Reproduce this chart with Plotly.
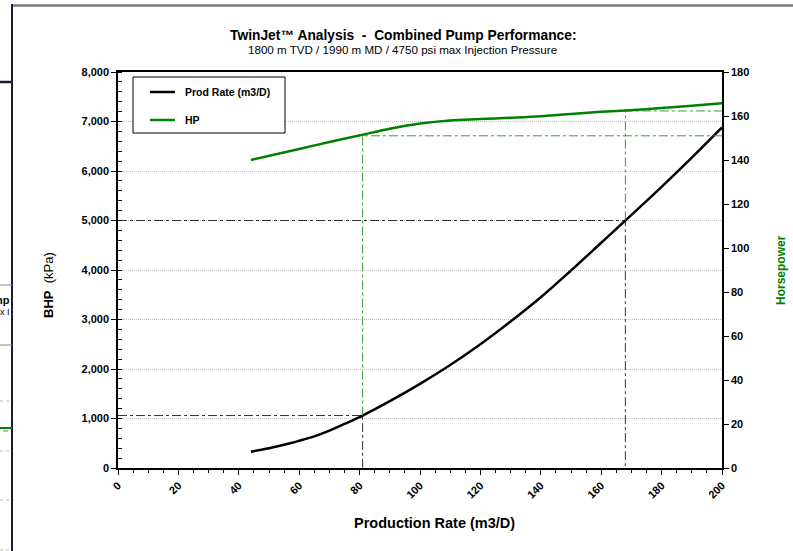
import plotly.graph_objects as go

# ---------------- data ----------------
prod_rate = [44, 50, 57, 60, 65, 70, 75, 81, 90, 100, 110, 120, 130, 140, 150, 160, 168, 180, 190, 200]
bhp_kpa   = [330, 400, 500, 550, 640, 755, 890, 1060, 1350, 1700, 2080, 2500, 2960, 3450, 3990, 4550, 5000, 5680, 6270, 6880]
hp_rate   = [44, 60, 70, 81, 90, 100, 110, 120, 130, 140, 150, 160, 168, 180, 190, 200]
hp_vals   = [140, 145, 148.2, 151.5, 154.2, 156.6, 158, 158.6, 159.2, 159.9, 160.9, 161.9, 162.5, 163.6, 164.7, 165.8]

op_rate = [81, 168]        # operating points (m3/D)
op_bhp = [1060, 5000]      # BHP at operating points (kPa)
op_hp = [151, 162.3]       # HP at operating points

x_ticks = list(range(0, 201, 20))
y_ticks = list(range(0, 8001, 1000))
y2_ticks = list(range(0, 181, 20))

FONT = "Liberation Sans, Arial, sans-serif"
W, H = 793, 551
L, R, T, B = 118, 71, 72, 83
PW, PH = W - L - R, H - T - B

def px(x):
    return (x - L) / PW

def py(y):
    return (H - B - y) / PH

fig = go.Figure()

# reference dashed lines
Y1MAX, Y2MAX = 8000, 180
for r, b, h in zip(op_rate, op_bhp, op_hp):
    fig.add_trace(go.Scatter(x=[0, r, r], y=[b, b, 0], mode="lines",
                             line=dict(color="#333333", width=1, dash="dashdot"),
                             showlegend=False, hoverinfo="skip"))
    fig.add_trace(go.Scatter(x=[r, r, 200], y=[b * Y2MAX / Y1MAX, h, h], mode="lines", yaxis="y2",
                             line=dict(color="#3c9a3c", width=1, dash="dashdot"),
                             showlegend=False, hoverinfo="skip"))

fig.add_trace(go.Scatter(x=prod_rate, y=bhp_kpa, mode="lines", name="Prod Rate (m3/D)",
                         line=dict(color="black", width=2.5, shape="spline"), showlegend=False))
fig.add_trace(go.Scatter(x=hp_rate, y=hp_vals, mode="lines", name="HP", yaxis="y2",
                         line=dict(color="#008000", width=2.5, shape="spline"), showlegend=False))

shapes = []
ann = []

# legend box (manual)
shapes.append(dict(type="rect", xref="paper", yref="paper", x0=px(133), x1=px(285), y0=py(133), y1=py(77),
                   line=dict(color="black", width=1), fillcolor="white"))
for yy, col, txt in [(92, "black", "Prod Rate (m3/D)"), (120, "#008000", "HP")]:
    shapes.append(dict(type="line", xref="paper", yref="paper", x0=px(150), x1=px(175), y0=py(yy), y1=py(yy),
                       line=dict(color=col, width=2.5)))
    ann.append(dict(text=txt, xref="paper", yref="paper", x=px(183), y=py(yy), xanchor="left", yanchor="middle",
                    showarrow=False, font=dict(family=FONT, size=10.5, color="black", weight="bold")))

# titles
ann.append(dict(text="TwinJet™ Analysis  -  Combined Pump Performance:", xref="paper", yref="paper",
                x=px(403), y=py(35), xanchor="center", yanchor="middle", showarrow=False,
                font=dict(family=FONT, size=13.8, color="black", weight="bold")))
ann.append(dict(text="1800 m TVD / 1990 m MD / 4750 psi max Injection Pressure", xref="paper", yref="paper",
                x=px(402), y=py(50), xanchor="center", yanchor="middle", showarrow=False,
                font=dict(family=FONT, size=11.6, color="black")))
ann.append(dict(text="<b>BHP</b>&nbsp; (kPa)", xref="paper", yref="paper", x=px(48), y=py(285), textangle=-90,
                xanchor="center", yanchor="middle", showarrow=False, font=dict(family=FONT, size=13, color="black")))
ann.append(dict(text="Horsepower", xref="paper", yref="paper", x=px(781), y=py(270), textangle=-90,
                xanchor="center", yanchor="middle", showarrow=False,
                font=dict(family=FONT, size=12, color="#008000", weight="bold")))
ann.append(dict(text="Production Rate (m3/D)", xref="paper", yref="paper", x=px(434), y=py(523),
                xanchor="center", yanchor="middle", showarrow=False,
                font=dict(family=FONT, size=14.5, color="black", weight="bold")))

# artifacts of neighbouring sheet at left edge / top border
shapes.append(dict(type="line", xref="paper", yref="paper", x0=px(12), x1=px(793), y0=py(5.5), y1=py(5.5),
                   line=dict(color="#7a7a7a", width=2.5), layer="above"))
shapes.append(dict(type="line", xref="paper", yref="paper", x0=px(12), x1=px(12), y0=py(4), y1=py(551),
                   line=dict(color="#1c1c30", width=2)))
shapes.append(dict(type="line", xref="paper", yref="paper", x0=px(0), x1=px(12), y0=py(82), y1=py(82),
                   line=dict(color="#1c1c30", width=2.5)))
for yy in [285, 345]:
    shapes.append(dict(type="line", xref="paper", yref="paper", x0=px(0), x1=px(12), y0=py(yy), y1=py(yy),
                       line=dict(color="#888888", width=1)))
for yy in [401, 451, 500, 550]:
    shapes.append(dict(type="line", xref="paper", yref="paper", x0=px(0), x1=px(11), y0=py(yy), y1=py(yy),
                       line=dict(color="#bbbbbb", width=1, dash="dot")))
shapes.append(dict(type="line", xref="paper", yref="paper", x0=px(0), x1=px(12), y0=py(428), y1=py(428),
                   line=dict(color="#008000", width=2)))
shapes.append(dict(type="line", xref="paper", yref="paper", x0=px(3), x1=px(8), y0=py(431), y1=py(431),
                   line=dict(color="#3c9a3c", width=1)))
ann.append(dict(text="np", xref="paper", yref="paper", x=px(12), y=py(300), xanchor="right", yanchor="middle",
                showarrow=False, font=dict(family=FONT, size=11, color="black", weight="bold")))
ann.append(dict(text="x I", xref="paper", yref="paper", x=px(12), y=py(312), xanchor="right", yanchor="middle",
                showarrow=False, font=dict(family=FONT, size=9, color="black")))

TICKFONT = dict(family=FONT, size=11, color="black", weight="bold")

fig.update_layout(
    width=W, height=H,
    margin=dict(l=L, r=R, t=T, b=B),
    paper_bgcolor="white", plot_bgcolor="white",
    font=dict(family=FONT, color="black"),
    shapes=shapes, annotations=ann,
    xaxis=dict(range=[0, 200], tickvals=x_ticks, tickangle=-45, showgrid=False, zeroline=False,
               showline=True, linecolor="black", linewidth=1.5, mirror=True,
               ticks="outside", ticklen=5, tickcolor="black",
               minor=dict(dtick=5, ticks="outside", ticklen=3, tickcolor="black"),
               tickfont=TICKFONT),
    yaxis=dict(range=[0, 8000], tickvals=y_ticks, tickformat=",", showgrid=True, gridcolor="#bdbdbd",
               griddash="1px,1px", gridwidth=1, zeroline=False,
               showline=True, linecolor="black", linewidth=1.5,
               ticks="outside", ticklen=5, tickcolor="black",
               minor=dict(dtick=200, ticks="inside", ticklen=4, tickcolor="black", showgrid=False),
               tickfont=TICKFONT),
    yaxis2=dict(range=[0, 180], tickvals=y2_ticks, overlaying="y", side="right", showgrid=False, zeroline=False,
                showline=True, linecolor="black", linewidth=1.5,
                ticks="outside", ticklen=5, tickcolor="black",
                tickfont=TICKFONT),
)

fig.write_html("out.html", config={"displayModeBar": False},
               post_script="document.body.style.margin='0';document.body.style.overflow='hidden';")
